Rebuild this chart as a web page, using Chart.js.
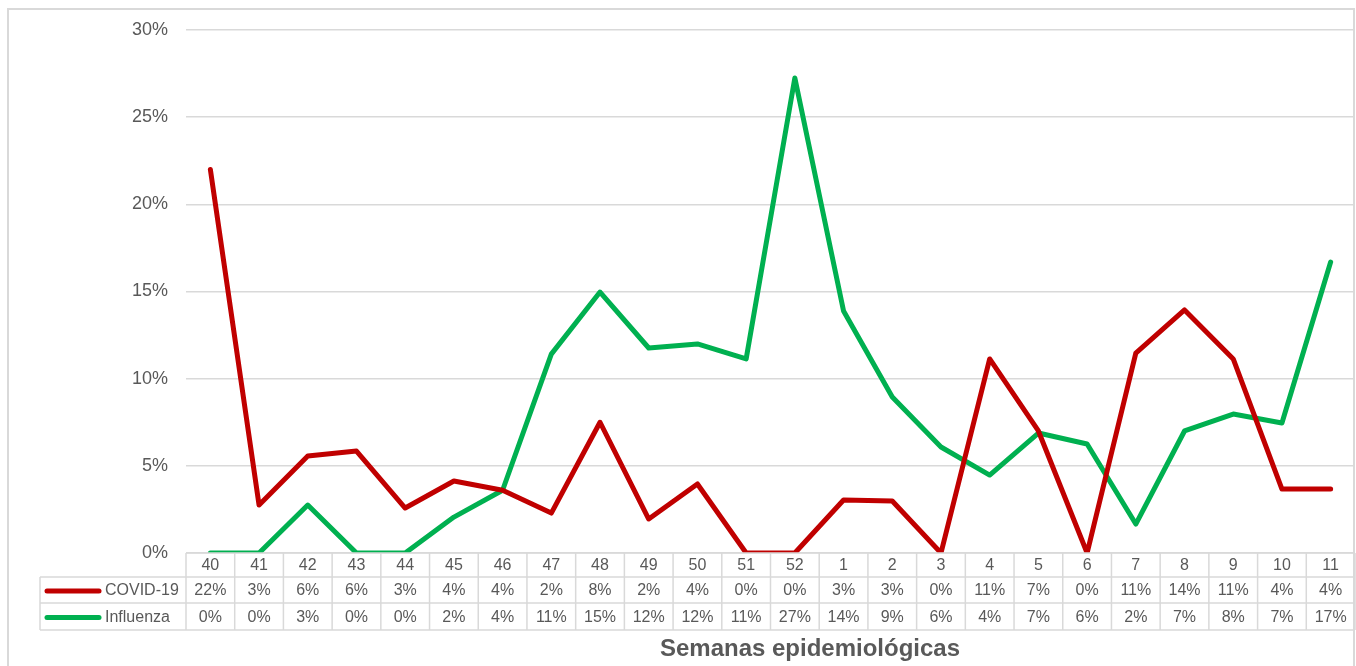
<!DOCTYPE html>
<html lang="es">
<head>
<meta charset="utf-8">
<title>COVID-19 e Influenza por semana epidemiológica</title>
<script src="https://cdn.jsdelivr.net/npm/chart.js@4/dist/chart.umd.min.js"></script>
<style>
    html, body { margin: 0; padding: 0; background: #fff; }
    #wrap { width: 1356px; height: 666px; position: relative; }
</style>
</head>
<body>
<div id="wrap"><canvas id="grafico"></canvas></div>
<script>
// Semanas epidemiológicas (eje X)
const semanas = ['40', '41', '42', '43', '44', '45', '46', '47', '48', '49', '50', '51', '52',
    '1', '2', '3', '4', '5', '6', '7', '8', '9', '10', '11'];

// Positividad (%)
const covid = [22.0, 2.75, 5.56, 5.85, 2.58, 4.13, 3.6, 2.29, 7.5, 1.95, 3.96, 0, 0,
    3.04, 2.98, 0, 11.13, 7.0, 0, 11.47, 13.94, 11.13, 3.67, 3.67];
const influenza = [0, 0, 2.75, 0, 0, 2.06, 3.6, 11.41, 14.97, 11.76, 11.99, 11.13, 27.25,
    13.88, 8.95, 6.08, 4.47, 6.88, 6.25, 1.66, 7.0, 7.97, 7.46, 16.69];

// Ticks del eje Y
const yMax = 30;
const yPaso = 5;

const series = [
    { nombre: 'COVID-19', datos: covid, color: '#C00000' },
    { nombre: 'Influenza', datos: influenza, color: '#00B050' }
];

const FUENTE = '"Liberation Sans", Arial, sans-serif';
const GRIS_TEXTO = '#595959';
const GRIS_LINEA = '#d9d9d9';

// Borde exterior y fondo
const fondoPlugin = {
    id: 'fondo',
    beforeDraw(chart) {
        const ctx = chart.ctx;
        ctx.save();
        ctx.fillStyle = '#fff';
        ctx.fillRect(0, 0, chart.width, chart.height);
        ctx.strokeStyle = GRIS_LINEA;
        ctx.lineWidth = 2;
        ctx.strokeRect(8, 9, chart.width - 10, chart.height + 20);
        ctx.restore();
    }
};

// Tabla de datos debajo del gráfico (como en Excel)
const tablaPlugin = {
    id: 'tablaDatos',
    afterDraw(chart) {
        const { ctx, chartArea } = chart;
        const x = chart.scales.x;
        const izq = chartArea.left;
        const der = chartArea.right;
        const colW = (der - izq) / semanas.length;
        const leyendaIzq = 40;
        const y0 = chartArea.bottom;
        const filas = [y0, y0 + 24, y0 + 50, y0 + 77];

        ctx.save();
        ctx.strokeStyle = GRIS_LINEA;
        ctx.lineWidth = 1.5;
        ctx.beginPath();
        // líneas horizontales
        ctx.moveTo(izq, filas[0]); ctx.lineTo(der, filas[0]);
        for (let i = 1; i < filas.length; i++) {
            ctx.moveTo(leyendaIzq, filas[i]);
            ctx.lineTo(der, filas[i]);
        }
        // líneas verticales
        for (let i = 0; i <= semanas.length; i++) {
            const xx = izq + i * colW;
            ctx.moveTo(xx, filas[0]);
            ctx.lineTo(xx, filas[3]);
        }
        ctx.moveTo(leyendaIzq, filas[1]);
        ctx.lineTo(leyendaIzq, filas[3]);
        ctx.stroke();

        ctx.fillStyle = GRIS_TEXTO;
        ctx.font = '16px ' + FUENTE;
        ctx.textAlign = 'center';
        ctx.textBaseline = 'middle';
        semanas.forEach((s, i) => {
            const cx = x.getPixelForValue(i);
            ctx.fillText(s, cx, (filas[0] + filas[1]) / 2 + 1);
            series.forEach((serie, k) => {
                const cy = (filas[k + 1] + filas[k + 2]) / 2 + 1;
                ctx.fillText(Math.round(serie.datos[i]) + '%', cx, cy);
            });
        });

        // leyenda
        series.forEach((serie, k) => {
            const cy = (filas[k + 1] + filas[k + 2]) / 2;
            ctx.strokeStyle = serie.color;
            ctx.lineWidth = 5;
            ctx.lineCap = 'round';
            ctx.beginPath();
            ctx.moveTo(47, cy + 1);
            ctx.lineTo(99, cy + 1);
            ctx.stroke();
            ctx.fillStyle = GRIS_TEXTO;
            ctx.textAlign = 'left';
            ctx.fillText(serie.nombre, 105, cy + 1);
        });

        // título del eje
        ctx.font = 'bold 24px ' + FUENTE;
        ctx.textAlign = 'center';
        ctx.fillText('Semanas epidemiológicas', 810, 649);
        ctx.restore();
    }
};

new Chart(document.getElementById('grafico'), {
    type: 'line',
    data: {
        labels: semanas,
        datasets: series.map(serie => ({
            label: serie.nombre,
            data: serie.datos,
            borderColor: serie.color,
            backgroundColor: serie.color,
            borderWidth: 5,
            borderCapStyle: 'round',
            borderJoinStyle: 'round',
            pointRadius: 0,
            tension: 0,
            fill: false
        }))
    },
    options: {
        responsive: true,
        maintainAspectRatio: false,
        animation: false,
        layout: {
            padding: { left: 8, top: 30, right: 1, bottom: 113 }
        },
        plugins: {
            legend: { display: false },
            tooltip: { enabled: false }
        },
        scales: {
            x: {
                display: false,
                offset: true
            },
            y: {
                min: 0,
                max: yMax,
                afterFit(scale) { scale.width = 178; },
                border: { display: false },
                grid: { color: GRIS_LINEA, lineWidth: 1.5, drawTicks: false },
                ticks: {
                    stepSize: yPaso,
                    padding: 18,
                    color: GRIS_TEXTO,
                    font: { size: 18, family: FUENTE },
                    callback: v => v + '%'
                }
            }
        }
    },
    plugins: [fondoPlugin, tablaPlugin]
});
</script>
</body>
</html>
